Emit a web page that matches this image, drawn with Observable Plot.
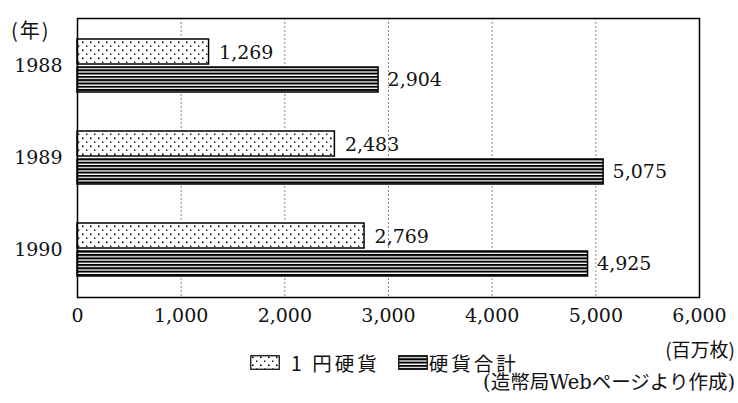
<!DOCTYPE html>
<html>
<head>
<meta charset="utf-8">
<script src="https://cdn.jsdelivr.net/npm/d3@7"></script>
<script src="https://cdn.jsdelivr.net/npm/@observablehq/plot@0.6"></script>
<style>
  body { margin: 0; background: #fff; }
  #wrap { position: relative; width: 738px; height: 403px; overflow: hidden; background: #fff; }
  .cjk { font-family: "Noto Sans CJK JP", sans-serif; color: #111; }
  .ser { font-family: "DejaVu Serif", "Noto Sans CJK JP", serif; color: #111; }
  #nen { position: absolute; left: 11px; top: 15px; font-size: 20px; letter-spacing: 2px; }
  #unit { position: absolute; right: 3px; top: 335px; font-size: 19px; }
  #legend { position: absolute; left: 250px; top: 348px; font-size: 19.5px; letter-spacing: 3px; display: flex; align-items: center; white-space: nowrap; }
  #legend svg { display: block; }
  #source { position: absolute; right: 3px; top: 366px; font-size: 19.5px; white-space: nowrap; }
  #chart { position: absolute; left: 0; top: 0; }
</style>
</head>
<body>
<div id="wrap">
  <div id="chart"></div>
  <div id="nen" class="cjk">(年)</div>
  <div id="unit" class="cjk">(百万枚)</div>
  <div id="legend" class="cjk">
    <svg width="30" height="15"><rect x="0.75" y="0.75" width="28.5" height="13.5" fill="url(#dots)" stroke="#000" stroke-width="1.2"/></svg>
    <span style="margin-left:11px">1 円硬貨</span>
    <svg width="30" height="15" style="margin-left:18px"><rect x="0.75" y="0.75" width="28.5" height="13.5" fill="url(#stripes)" stroke="#000" stroke-width="1.2"/></svg>
    <span style="margin-left:1px">硬貨合計</span>
  </div>
  <div id="source" class="ser">(造幣局Webページより作成)</div>
</div>
<script>
// ---- data ----
const years = ["1988", "1989", "1990"];
const oneYen = [1269, 2483, 2769];     // 1円硬貨 (百万枚)
const totalCoins = [2904, 5075, 4925]; // 硬貨合計 (百万枚)
const xTicks = [0, 1000, 2000, 3000, 4000, 5000, 6000];
const gridTicks = [1000, 2000, 3000, 4000, 5000];

const rows = years.map((y, i) => ({year: y, one: oneYen[i], total: totalCoins[i]}));
const fmt = d3.format(",");

const chart = Plot.plot({
  width: 738,
  height: 335,
  marginLeft: 77,
  marginRight: 39,
  marginTop: 18,
  marginBottom: 38,
  style: {fontFamily: "DejaVu Serif, serif", fontSize: "19px", color: "#111", background: "white"},
  x: {domain: [0, 6000]},
  y: {domain: years, paddingInner: 0.42, paddingOuter: 0.22},
  marks: [
    Plot.ruleX(gridTicks, {stroke: "#888", strokeWidth: 1, strokeDasharray: "2,2"}),
    Plot.barX(rows, {y: "year", x: "one", fill: "url(#dots)", stroke: "#000", strokeWidth: 1.5, insetBottom: 28}),
    Plot.barX(rows, {y: "year", x: "total", fill: "url(#stripes)", stroke: "#000", strokeWidth: 1.5, insetTop: 28}),
    Plot.text(rows, {y: "year", x: "one", text: d => fmt(d.one), textAnchor: "start", dx: 10, dy: -13, fill: "#111"}),
    Plot.text(rows, {y: "year", x: "total", text: d => fmt(d.total), textAnchor: "start", dx: 9, dy: 14, fill: "#111"}),
    Plot.frame({stroke: "#000", strokeWidth: 1.5}),
    Plot.axisX({ticks: xTicks, tickFormat: fmt, tickSize: 0, tickPadding: 11, label: null}),
    Plot.axisY({tickSize: 0, tickPadding: 15, label: null})
  ]
});

// pattern fills
const ns = "http://www.w3.org/2000/svg";
const defs = document.createElementNS(ns, "defs");
defs.innerHTML = `
  <pattern id="dots" width="8" height="8" patternUnits="userSpaceOnUse">
    <rect width="8" height="8" fill="#fff"/>
    <rect x="2" y="1.5" width="1.6" height="1.6" fill="#000"/>
    <rect x="6" y="5.5" width="1.4" height="1.4" fill="#000"/>
  </pattern>
  <pattern id="stripes" width="8" height="3.3" patternUnits="userSpaceOnUse">
    <rect width="8" height="3.3" fill="#fff"/>
    <rect y="0" width="8" height="2" fill="#000"/>
  </pattern>`;
chart.insertBefore(defs, chart.firstChild);
document.getElementById("chart").appendChild(chart);
</script>
</body>
</html>
